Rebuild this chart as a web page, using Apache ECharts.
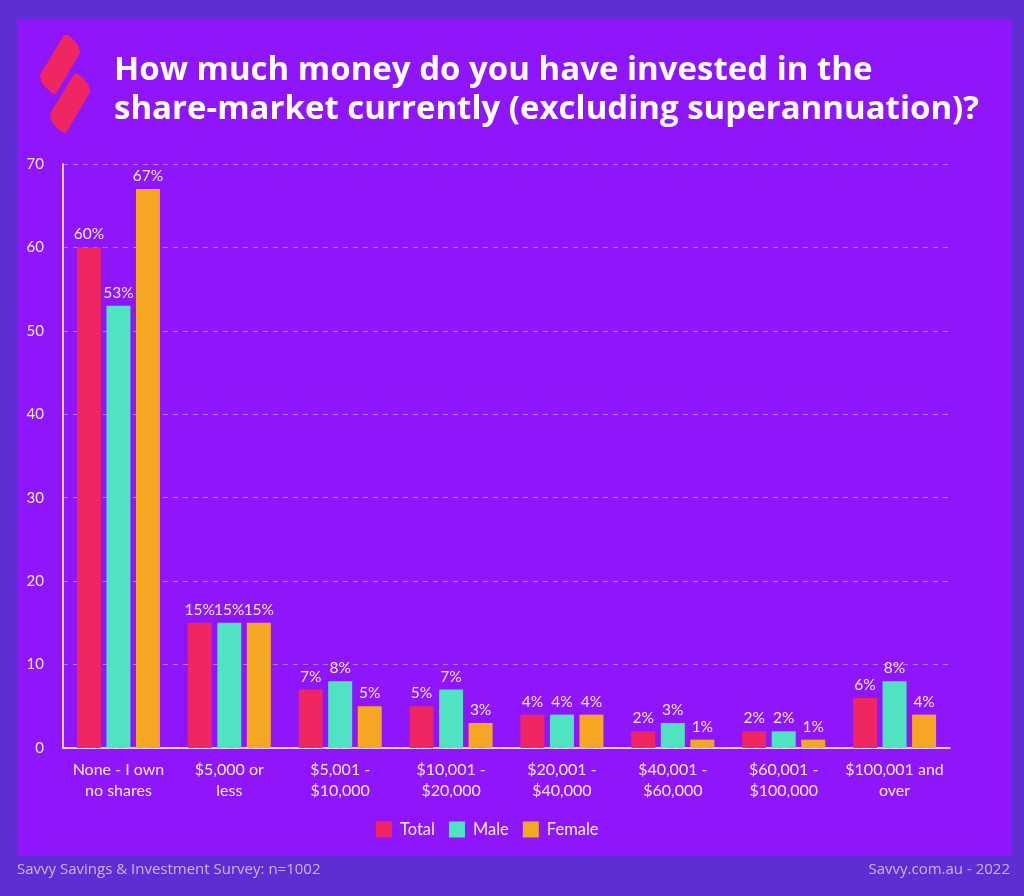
<!DOCTYPE html>
<html>
<head>
<meta charset="utf-8">
<script src="https://cdn.jsdelivr.net/npm/echarts@6/dist/echarts.min.js"></script>
<style>
html,body{margin:0;padding:0;background:#5f2ed2;}
#chart{width:1024px;height:896px;}
</style>
</head>
<body>
<div id="chart"></div>
<script>
const categories = ["None - I own\nno shares", "$5,000 or\nless", "$5,001 -\n$10,000", "$10,001 -\n$20,000", "$20,001 -\n$40,000", "$40,001 -\n$60,000", "$60,001 -\n$100,000", "$100,001 and\nover"];
const totalValues = [60, 15, 7, 5, 4, 2, 2, 6];
const maleValues = [53, 15, 8, 7, 4, 3, 2, 8];
const femaleValues = [67, 15, 5, 3, 4, 1, 1, 4];
const seriesNames = ["Total", "Male", "Female"];
const titleText = "How much money do you have invested in the\nshare-market currently (excluding superannuation)?";
const footerLeft = "Savvy Savings & Investment Survey: n=1002";
const footerRight = "Savvy.com.au - 2022";

const chart = echarts.init(document.getElementById('chart'), null, {renderer: 'canvas'});
const labelStyle = {
  show: true, position: 'top', distance: 5,
  formatter: '{c}%', color: '#f3e8ff', fontSize: 15.5, fontFamily: 'Lato'
};
function mkSeries(name, data, color) {
  return {
    name: name, type: 'bar', data: data, barWidth: 24, barGap: '23%',
    itemStyle: {color: color}, label: labelStyle
  };
}
chart.setOption({
  backgroundColor: '#5f2ed2',
  animation: false,
  textStyle: {fontFamily: 'Lato'},
  title: {
    text: titleText, left: 109, top: 46,
    textStyle: {color: '#ffffff', fontSize: 33, fontWeight: 'bold', lineHeight: 39, fontFamily: 'Open Sans'}
  },
  graphic: [
    {type: 'rect', z: -100, shape: {x: 17, y: 19, width: 995, height: 837}, style: {fill: '#8f15fa'}},
    {type: 'polygon', z: 10, shape: {points: [[64,35],[68,35],[75,41],[79,47],[80,53],[56,94],[52,93],[45,87],[41,81],[40,75]]}, style: {fill: '#ee2662'}},
    {type: 'polygon', z: 10, shape: {points: [[74,74],[78,74],[85,80],[89,86],[90,92],[66,133],[62,132],[55,126],[51,120],[50,114]]}, style: {fill: '#ee2662'}},
    {type: 'text', left: 17, top: 862, style: {text: footerLeft, fill: '#c9b3f2', fontSize: 15, fontFamily: 'Open Sans'}},
    {type: 'text', right: 14, top: 862, style: {text: footerRight, fill: '#c9b3f2', fontSize: 15, fontFamily: 'Open Sans'}}
  ],
  legend: {
    data: seriesNames, left: 371, top: 816, itemWidth: 16, itemHeight: 16, itemGap: 14,
    icon: 'rect',
    textStyle: {color: '#f3e8ff', fontSize: 16.5, fontFamily: 'Lato', padding: [0, 0, 0, 3]}
  },
  grid: {left: 63, right: 74, top: 164, bottom: 148},
  xAxis: {
    type: 'category', data: categories,
    axisLine: {lineStyle: {color: '#ffffff', width: 1.5}},
    axisTick: {show: false},
    axisLabel: {color: '#f3e8ff', fontSize: 16, lineHeight: 21, margin: 11, interval: 0, fontFamily: 'Lato'}
  },
  yAxis: {
    type: 'value', min: 0, max: 70, interval: 10,
    axisLine: {show: true, lineStyle: {color: '#ffffff', width: 1.5}},
    axisTick: {show: false},
    axisLabel: {color: '#f3e8ff', fontSize: 15, margin: 19, fontFamily: 'Lato'},
    splitLine: {lineStyle: {color: 'rgba(200,150,255,0.75)', type: [5,5], width: 1}}
  },
  series: [
    mkSeries(seriesNames[0], totalValues, '#ee2662'),
    mkSeries(seriesNames[1], maleValues, '#50e3c2'),
    mkSeries(seriesNames[2], femaleValues, '#f5a623')
  ]
});
</script>
</body>
</html>
